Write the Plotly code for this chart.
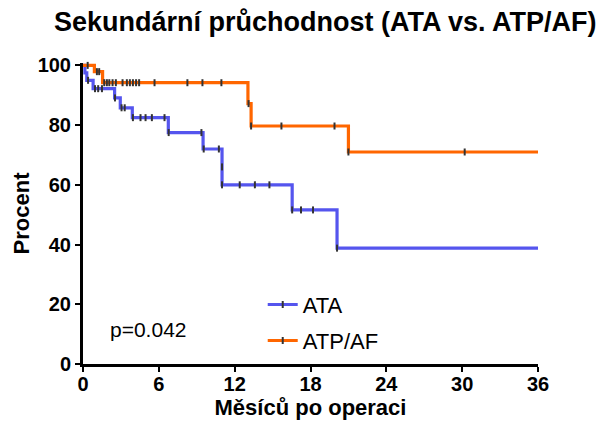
import plotly.graph_objects as go

# ---- data ----
ata_t = [0, 0.15, 0.3, 0.8, 2.5, 2.95, 3.9, 6.75, 9.5, 11.0, 16.55, 20.1, 36]
ata_s = [100, 97.5, 95.0, 92.2, 89.1, 85.8, 82.5, 77.5, 72.0, 60.0, 51.6, 38.8, 38.8]
ata_cens_t = [0.4, 0.95, 1.2, 1.5, 2.53, 3.05, 3.3, 3.95, 4.55, 4.95, 5.45, 6.45, 6.78,
              9.37, 9.55, 10.75, 11.0, 11.0, 12.4, 13.6, 14.75, 16.55, 17.25, 18.2, 20.1]
ata_cens_s = [95.0, 92.2, 92.2, 92.2, 89.1, 85.8, 85.8, 82.5, 82.5, 82.5, 82.5, 82.5, 77.5,
              77.5, 72.0, 72.0, 66.0, 60.0, 60.0, 60.0, 60.0, 51.6, 51.6, 51.6, 38.8]

atp_t = [0, 0.9, 1.55, 13.05, 13.3, 21.0, 36]
atp_s = [100, 97.9, 94.2, 87.2, 79.7, 71.0, 71.0]
atp_cens_t = [0.37, 1.1, 1.28, 1.68, 1.89, 2.08, 2.34, 2.6, 3.13, 3.47, 3.71, 3.95, 4.2, 4.44,
              5.66, 8.26, 9.45, 10.95, 13.1, 13.3, 15.7, 19.9, 21.0, 30.2]
atp_cens_s = [100, 97.9, 97.9, 94.2, 94.2, 94.2, 94.2, 94.2, 94.2, 94.2, 94.2, 94.2, 94.2, 94.2,
              94.2, 94.2, 94.2, 94.2, 87.2, 79.7, 79.7, 79.7, 71.0, 71.0]

x_ticks = [0, 6, 12, 18, 24, 30, 36]
y_ticks = [0, 20, 40, 60, 80, 100]

BLUE = "#5555EE"
ORANGE = "#FF6600"
CENS = "#333333"
FONT = "Liberation Sans, Arial, sans-serif"

fig = go.Figure()

fig.add_trace(go.Scatter(x=ata_t, y=ata_s, mode="lines", line=dict(color=BLUE, width=3.2, shape="hv"),
                         showlegend=False, hoverinfo="skip"))
fig.add_trace(go.Scatter(x=atp_t, y=atp_s, mode="lines", line=dict(color=ORANGE, width=3.2, shape="hv"),
                         showlegend=False, hoverinfo="skip"))
fig.add_trace(go.Scatter(x=ata_cens_t, y=ata_cens_s, mode="markers", showlegend=False, cliponaxis=False,
                         marker=dict(symbol="line-ns", size=5, line=dict(color=CENS, width=2))))
fig.add_trace(go.Scatter(x=atp_cens_t, y=atp_cens_s, mode="markers", showlegend=False, cliponaxis=False,
                         marker=dict(symbol="line-ns", size=5, line=dict(color=CENS, width=2))))

# legend entries
fig.add_trace(go.Scatter(x=[None], y=[None], mode="lines+markers", name="ATA", legend="legend",
                         line=dict(color=BLUE, width=3),
                         marker=dict(symbol="line-ns", size=5, color=CENS, line=dict(color=CENS, width=2))))
fig.add_trace(go.Scatter(x=[None], y=[None], mode="lines+markers", name="ATP/AF", legend="legend2",
                         line=dict(color=ORANGE, width=3),
                         marker=dict(symbol="line-ns", size=5, color=CENS, line=dict(color=CENS, width=2))))

fig.add_annotation(x=2.0, y=11.7, xref="x", yref="y", text="p=0.042", showarrow=False,
                   xanchor="left", yanchor="middle", font=dict(family=FONT, size=21, color="black"))

axis_common = dict(showline=True, linecolor="black", linewidth=3, ticks="outside", ticklen=5,
                   tickwidth=2, tickcolor="black", showgrid=False, zeroline=False, automargin=False,
                   tickfont=dict(family=FONT, size=20, color="black", weight="bold"))

fig.update_layout(
    width=600, height=423,
    margin=dict(l=83, r=62, t=63, b=59),
    paper_bgcolor="white", plot_bgcolor="white",
    title=dict(text="Sekundární průchodnost (ATA vs. ATP/AF)", x=0.542, xanchor="center",
               y=0.948, yanchor="middle",
               font=dict(family=FONT, size=27, color="black", weight="bold")),
    xaxis=dict(range=[0, 36], tickvals=x_ticks, ticktext=[str(v) for v in x_ticks],
               ticklabelstandoff=-5,
               title=dict(text="Měsíců po operaci", standoff=4,
                          font=dict(family=FONT, size=22, color="black", weight="bold")),
               **axis_common),
    yaxis=dict(range=[0, 100.8], tickvals=y_ticks, ticktext=[str(v) for v in y_ticks],
               title=dict(text="Procent", standoff=2,
                          font=dict(family=FONT, size=22, color="black", weight="bold")),
               **axis_common),
    legend=dict(x=0.395, y=0.197, xanchor="left", yanchor="middle", bgcolor="rgba(0,0,0,0)",
                font=dict(family=FONT, size=22, color="black"), itemwidth=30),
    legend2=dict(x=0.395, y=0.077, xanchor="left", yanchor="middle", bgcolor="rgba(0,0,0,0)",
                 font=dict(family=FONT, size=22, color="black"), itemwidth=30),
)

fig.write_html("out.html")
